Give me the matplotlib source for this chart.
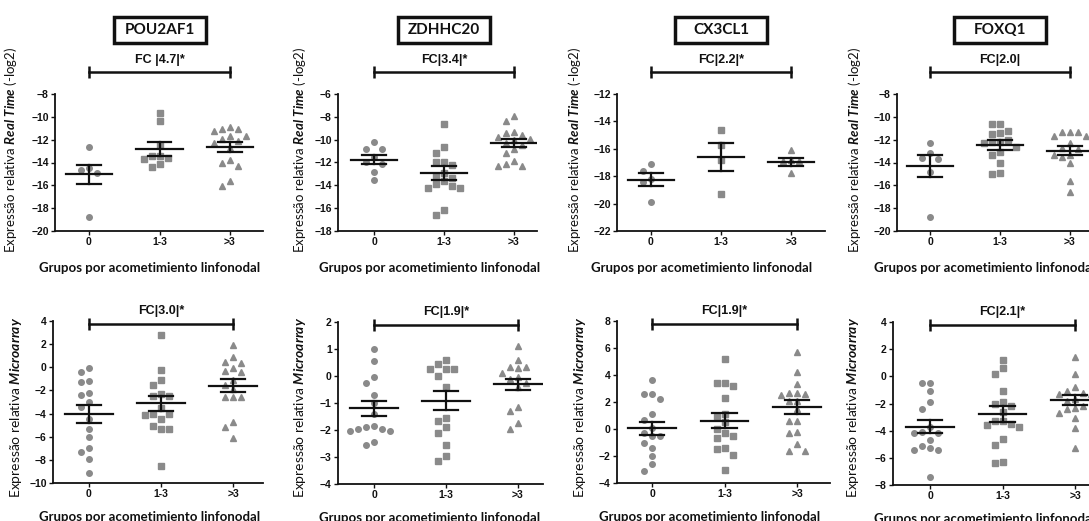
'''
Dot plots of relative expression by lymph node group
Real Time (top row) and Microarray (bottom row)
'''
import matplotlib
matplotlib.use("Agg")
import matplotlib.pyplot as plt
from matplotlib.patches import Rectangle
import numpy as np

plt.rcParams['mathtext.fontset'] = 'custom'
plt.rcParams['mathtext.rm'] = 'Lato'
plt.rcParams['mathtext.it'] = 'Lato:italic:bold'
plt.rcParams['mathtext.bf'] = 'Lato:bold'

genes = ["POU2AF1", "ZDHHC20", "CX3CL1", "FOXQ1"]
groups = ["0", "1-3", ">3"]
fc_top = ["FC |4.7|*", "FC|3.4|*", "FC|2.2|*", "FC|2.0|"]
fc_bottom = ["FC|3.0|*", "FC|1.9|*", "FC|1.9|*", "FC|2.1|*"]
xlabel = "Grupos por acometimiento linfonodal"
ylabel_top = r"Expressão relativa $\mathit{Real\ Time}$ (-log2)"
ylabel_bottom = r"Expressão relativa $\mathit{Microarray}$"

# real time values (-log2), per gene: group 0, 1-3, >3
rt_pou2af1 = [[-12.6, -14.5, -14.9, -14.7, -18.8],
              [-9.7, -10.4, -12.5, -13.4, -13.4, -13.6, -13.7, -14.1, -14.4],
              [-11.1, -10.9, -11.2, -11.1, -11.7, -11.7, -11.9, -12.1, -12.3,
               -12.7, -14.0, -14.3, -13.8, -15.6, -16.1]]
rt_zdhhc20 = [[-10.2, -10.8, -10.8, -11.5, -12.0, -12.1, -12.8, -13.5],
              [-8.6, -10.6, -11.2, -12.0, -12.2, -12.0, -12.9, -13.2, -13.4,
               -13.6, -13.9, -14.2, -14.2, -14.1, -16.6, -16.2],
              [-7.9, -8.4, -9.3, -9.4, -9.6, -9.8, -9.9, -10.0, -10.3, -10.5,
               -10.8, -11.2, -11.9, -12.1, -12.3, -12.3]]
rt_cx3cl1 = [[-17.1, -17.6, -18.2, -18.4, -19.9],
             [-14.6, -15.7, -16.8, -19.3],
             [-16.1, -16.9, -16.9, -16.8, -17.8]]
rt_foxq1 = [[-12.3, -13.2, -13.6, -13.7, -14.8, -18.8],
            [-10.6, -10.6, -11.2, -11.4, -11.5, -12.0, -12.2, -12.2, -12.3,
             -12.6, -13.1, -13.3, -14.0, -14.9, -15.0],
            [-11.3, -11.3, -11.3, -11.7, -11.7, -12.3, -12.7, -12.8, -13.3,
             -13.3, -13.5, -14.0, -15.6, -16.6]]

# microarray values
ma_pou2af1 = [[-0.1, -0.4, -1.2, -1.3, -2.2, -2.4, -3.0, -3.4, -4.5, -5.3,
               -6.0, -7.0, -7.3, -7.9, -9.1],
              [2.8, -0.25, -1.1, -1.5, -2.45, -2.3, -2.5, -3.5, -4.1, -4.0,
               -4.0, -4.5, -5.3, -5.3, -5.1, -8.5],
              [1.9, 0.9, 0.5, 0.4, -0.3, -0.1, -0.4, -1.1, -1.5, -1.9, -2.6,
               -2.6, -2.6, -4.7, -5.2, -6.1]]
ma_zdhhc20 = [[1.0, 0.55, -0.05, -0.25, -0.7, -1.0, -1.4, -1.9, -1.95, -2.05,
               -2.05, -1.95, -1.85, -2.45, -2.55],
              [0.6, 0.45, 0.25, 0.25, 0.25, 0.0, -0.4, -1.55, -1.65, -1.9,
               -2.1, -2.55, -2.95, -3.15],
              [1.1, 0.6, 0.35, 0.35, 0.3, 0.1, -0.05, -0.1, -0.25, -0.4,
               -1.15, -1.3, -1.75, -1.95]]
ma_cx3cl1 = [[3.6, 2.6, 2.6, 2.2, 1.1, 0.7, 0.1, -0.3, -0.5, -0.5, -1.0, -1.4,
              -2.0, -2.6, -3.1],
             [5.2, 3.4, 3.2, 3.4, 2.3, 1.1, 0.9, 0.5, 0.0, -0.3, -0.5, -0.7,
              -1.5, -1.4, -1.9, -3.0],
             [5.7, 4.2, 3.3, 2.7, 2.5, 2.6, 2.7, 2.1, 2.1, 1.5, 0.6, 0.6,
              -0.2, -0.3, -1.1, -1.6, -1.6]]
ma_foxq1 = [[-0.5, -0.5, -1.1, -1.9, -2.4, -3.7, -4.1, -4.2, -4.2, -4.7, -5.1,
             -5.4, -5.4, -5.3, -7.4],
            [1.2, 0.6, 0.2, -1.1, -1.9, -2.2, -2.0, -2.6, -3.3, -3.5, -3.7,
             -3.6, -3.3, -4.6, -5.05, -6.35, -6.3],
            [1.4, 0.2, -0.8, -1.1, -1.3, -1.2, -1.3, -1.7, -1.8, -2.2, -2.3,
             -2.4, -3.1, -3.8, -5.3, -2.7]]

# mean and SEM
rt_means = [[-15.05, -12.8, -12.65], [-11.75, -12.9, -10.25],
            [-18.25, -16.6, -16.95], [-14.3, -12.45, -12.95]]
rt_sems = [[0.85, 0.6, 0.45], [0.4, 0.6, 0.35],
           [0.5, 1.0, 0.27], [0.95, 0.45, 0.4]]
ma_means = [[-4.05, -3.1, -1.6], [-1.2, -0.92, -0.3],
            [0.05, 0.6, 1.6], [-3.7, -2.75, -1.75]]
ma_sems = [[0.75, 0.65, 0.55], [0.28, 0.35, 0.2],
           [0.5, 0.55, 0.52], [0.5, 0.6, 0.38]]

rt_data = [rt_pou2af1, rt_zdhhc20, rt_cx3cl1, rt_foxq1]
ma_data = [ma_pou2af1, ma_zdhhc20, ma_cx3cl1, ma_foxq1]

W, H = 1089, 521
GREY = '#8a8a8a'
BLACK = '#111111'
MARKERS = [('o', 4.0), ('s', 4.4), ('^', 5.0)]

# panel layout in pixels: axis left, cat 0, cat >3, axis right, top, bottom
rt_geom = [(55, 89, 230, 263, 94, 231), (338, 374, 514, 537, 94, 231),
           (617, 651, 791, 825, 94, 231), (897, 930, 1070, 1105, 94, 231)]
ma_geom = [(53, 89, 233, 263, 321, 483), (338, 374, 518, 543, 322, 484),
           (617, 652, 797, 830, 321, 483), (893, 930, 1075, 1110, 322, 485)]
rt_ylim = [(-20, -8, 2), (-18, -6, 2), (-22, -12, 2), (-20, -8, 2)]
ma_ylim = [(-10, 4, 2), (-4, 2, 1), (-4, 8, 2), (-8, 4, 2)]
# label centres / left edges in pixels
rt_ylab_x = [13, 302, 577, 857]
ma_ylab_x = [18, 302, 582, 855]
rt_xlab_left = [40, 320, 592, 875]
ma_xlab_left = [40, 320, 600, 875]


def swarm(vals, ystep):
    # spread points of similar value sideways in slots
    vals = np.asarray(vals)
    order = np.argsort(-vals)
    slots = np.zeros(len(vals))
    placed = []
    for i in order:
        for k in [0, -1, 1, -2, 2, -3, 3, -4, 4]:
            if all(pk != k or abs(vals[i] - py) >= ystep for py, pk in placed):
                slots[i] = k
                placed.append((vals[i], k))
                break
    return slots


def draw_panel(geom, ylim, data, means, sems, fc, ylab, ylab_size, ylab_x, ylab_y,
               xlab_left, xlab_off, fc_px):
    left, c0, c2, right, top, bot = geom
    ax = fig.add_axes([left / W, 1 - bot / H, (right - left) / W, (bot - top) / H])
    unit = (c2 - c0) / 2.0
    ax.set_xlim(-(c0 - left) / unit, 2 + (right - c2) / unit)
    ax.set_ylim(ylim[0], ylim[1])
    ax.set_yticks(np.arange(ylim[0], ylim[1] + 0.01, ylim[2]))
    ax.set_xticks(range(3))
    ax.set_xticklabels(groups)

    yscale = (ylim[1] - ylim[0]) / (bot - top)
    xstep = 8.0 / unit
    for g, vals in enumerate(data):
        m, ms = MARKERS[g]
        offs = swarm(vals, 7.0 * yscale) * xstep
        ax.plot(g + offs, vals, linestyle='none', marker=m, ms=ms,
                color=GREY, mec=GREY, clip_on=False, zorder=2)
        # mean and sem
        ax.plot([g - 0.33, g + 0.33], [means[g], means[g]], color=BLACK, lw=1.6, zorder=3)
        for s in (1, -1):
            ax.plot([g - 0.17, g + 0.17], [means[g] + s * sems[g]] * 2, color=BLACK, lw=1.6, zorder=3)
        ax.plot([g, g], [means[g] - sems[g], means[g] + sems[g]], color=BLACK, lw=1.6, zorder=3)

    # fold change bar
    h = float(bot - top)
    fc_y = 1 + (top - fc_px) / h
    tr = ax.get_xaxis_transform()
    ax.plot([0, 2], [fc_y, fc_y], transform=tr, color=BLACK, lw=1.8,
            marker='|', ms=8, mew=1.8, clip_on=False)
    ax.text(1, fc_y + 6.0 / h, fc, transform=tr,
            ha='center', va='bottom', fontsize=9, fontweight='bold',
            family='Liberation Sans', color=BLACK)

    for side in ['top', 'right']:
        ax.spines[side].set_visible(False)
    for side in ['left', 'bottom']:
        ax.spines[side].set_linewidth(1.3)
        ax.spines[side].set_color(BLACK)
    ax.tick_params(axis='both', length=3, width=1, colors=BLACK, pad=1.5)
    for lab in ax.get_xticklabels() + ax.get_yticklabels():
        lab.set_fontsize(7.5)
        lab.set_fontweight('bold')
        lab.set_family('Liberation Sans')

    ax.set_ylabel(ylab, fontsize=ylab_size, family='Lato', color=BLACK)
    ax.yaxis.set_label_coords((ylab_x + 6 - left) / (right - left), (bot - ylab_y) / h)
    ax.set_xlabel(xlabel, fontsize=9.5, fontweight='bold', family='Lato', color=BLACK)
    ax.xaxis.set_label_coords((xlab_left + 109.5 - left) / (right - left), -xlab_off / h)
    return ax


fig = plt.figure(figsize=(W / 100, H / 100), dpi=100)
fig.patch.set_facecolor('white')

for i in range(4):
    left, c0, c2, right, top, bot = rt_geom[i]
    draw_panel(rt_geom[i], rt_ylim[i], rt_data[i], rt_means[i], rt_sems[i],
               fc_top[i], ylabel_top, 9.5, rt_ylab_x[i], 150, rt_xlab_left[i],
               31.0, 71.7)
    # gene name box
    cx = (c0 + c2) / 2.0
    fig.patches.append(Rectangle(((cx - 46) / W, 1 - 43.0 / H), 92.0 / W, 26.0 / H,
                                 transform=fig.transFigure, fill=False,
                                 ec=BLACK, lw=2.5))
    fig.text(cx / W, 1 - 30.0 / H, genes[i], ha='center', va='center',
             fontsize=11, fontweight='bold', family='Lato', color=BLACK)

for i in range(4):
    left, c0, c2, right, top, bot = ma_geom[i]
    draw_panel(ma_geom[i], ma_ylim[i], ma_data[i], ma_means[i], ma_sems[i],
               fc_bottom[i], ylabel_bottom, 10, ma_ylab_x[i], 407, ma_xlab_left[i],
               28.0, top + 2.5)

plt.savefig("out.png", dpi=100)
plt.close()
